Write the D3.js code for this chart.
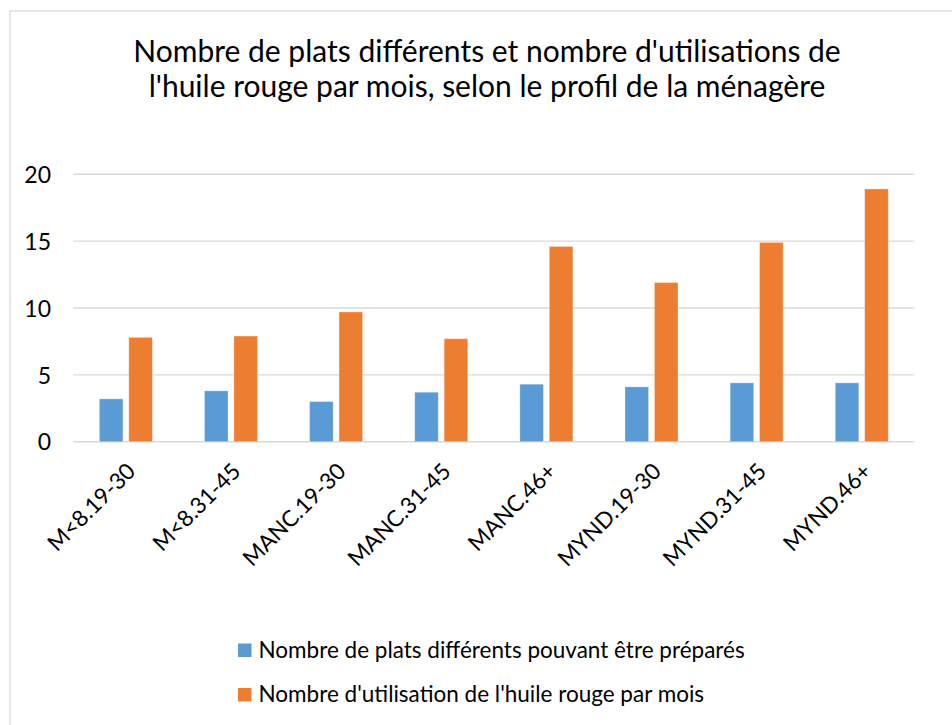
<!DOCTYPE html>
<html>
<head>
<meta charset="utf-8">
<script src="https://cdn.jsdelivr.net/npm/d3@7"></script>
<style>
  html, body { margin: 0; padding: 0; background: #fff; }
  svg { display: block; font-family: Lato, "Open Sans", sans-serif; }
</style>
</head>
<body>
<svg id="chart" width="952" height="725"></svg>
<script>
const categories = ["M<8.19-30", "M<8.31-45", "MANC.19-30", "MANC.31-45", "MANC.46+", "MYND.19-30", "MYND.31-45", "MYND.46+"];
const seriesNames = ["Nombre de plats différents pouvant être préparés", "Nombre d'utilisation de l'huile rouge par mois"];
const platsValues = [3.2, 3.8, 3.0, 3.7, 4.3, 4.1, 4.4, 4.4];
const huileValues = [7.8, 7.9, 9.7, 7.7, 14.6, 11.9, 14.9, 18.9];
const yTicks = [0, 5, 10, 15, 20];
const titleLines = ["Nombre de plats différents et nombre d'utilisations de", "l'huile rouge par mois, selon le profil de la ménagère"];
const colors = ["#5B9BD5", "#ED7D31"];

const svg = d3.select("#chart");

// chart border
svg.append("rect").attr("x", 10).attr("y", 11).attr("width", 960).attr("height", 730)
  .attr("fill", "#fff").attr("stroke", "#d9d9d9").attr("stroke-width", 1.3);

// title
svg.append("g").selectAll("text").data(titleLines).join("text")
  .attr("x", 487).attr("y", (d, i) => 61.5 + i * 35.5)
  .attr("text-anchor", "middle")
  .attr("font-size", 30).attr("fill", "#000")
  .text(d => d);

const margin = { left: 73.3, right: 914.3, top: 174.3, bottom: 441.7 };
const x0 = d3.scaleBand().domain(categories).range([margin.left, margin.right]).padding(0);
const bw = x0.bandwidth();
const x1 = d3.scaleBand().domain([0, 1]).range([bw * 0.248, bw * 0.752]).paddingInner(0.2).paddingOuter(0);
const y = d3.scaleLinear().domain([0, 20]).range([margin.bottom, margin.top]);

// gridlines
svg.append("g").selectAll("line").data(yTicks).join("line")
  .attr("x1", margin.left).attr("x2", margin.right)
  .attr("y1", d => y(d)).attr("y2", d => y(d))
  .attr("stroke", "#d9d9d9").attr("stroke-width", 1.4);

// y axis labels
const yAxis = d3.axisLeft(y).tickValues(yTicks).tickSize(0).tickPadding(0);
const yg = svg.append("g").attr("transform", `translate(51,0)`).call(yAxis);
yg.select(".domain").remove();
yg.selectAll("text").attr("font-size", 23).attr("fill", "#000")
  .attr("font-family", "Lato, 'Open Sans', sans-serif").attr("dy", "0.36em");

// bars
const data = categories.map((c, i) => ({ cat: c, vals: [platsValues[i], huileValues[i]] }));
const groups = svg.append("g").selectAll("g").data(data).join("g")
  .attr("transform", d => `translate(${x0(d.cat)},0)`);
groups.selectAll("rect").data(d => d.vals.map((v, s) => ({ v, s }))).join("rect")
  .attr("x", d => x1(d.s)).attr("width", x1.bandwidth())
  .attr("y", d => y(d.v)).attr("height", d => y(0) - y(d.v))
  .attr("fill", d => colors[d.s])
  .attr("stroke", "#fff").attr("stroke-opacity", 0.35).attr("stroke-width", 0.8);

// x axis labels
const xAxis = d3.axisBottom(x0).tickSize(0).tickPadding(0);
const xg = svg.append("g").attr("transform", `translate(0,${margin.bottom})`).call(xAxis);
xg.select(".domain").remove();
xg.selectAll(".tick text")
  .attr("font-size", 22.5).attr("fill", "#000")
  .attr("font-family", "Lato, 'Open Sans', sans-serif")
  .attr("text-anchor", "end")
  .attr("y", 0).attr("dy", 0)
  .attr("transform", "translate(11,31) rotate(-45)");

// legend
const legend = svg.append("g").selectAll("g").data(seriesNames).join("g")
  .attr("transform", (d, i) => `translate(238,${643.5 + i * 44.5})`);
legend.append("rect").attr("width", 13.5).attr("height", 13.5).attr("fill", (d, i) => colors[i]);
legend.append("text").attr("x", 20.5).attr("y", 14)
  .attr("font-size", 22.5).attr("fill", "#000").text(d => d);
</script>
</body>
</html>
